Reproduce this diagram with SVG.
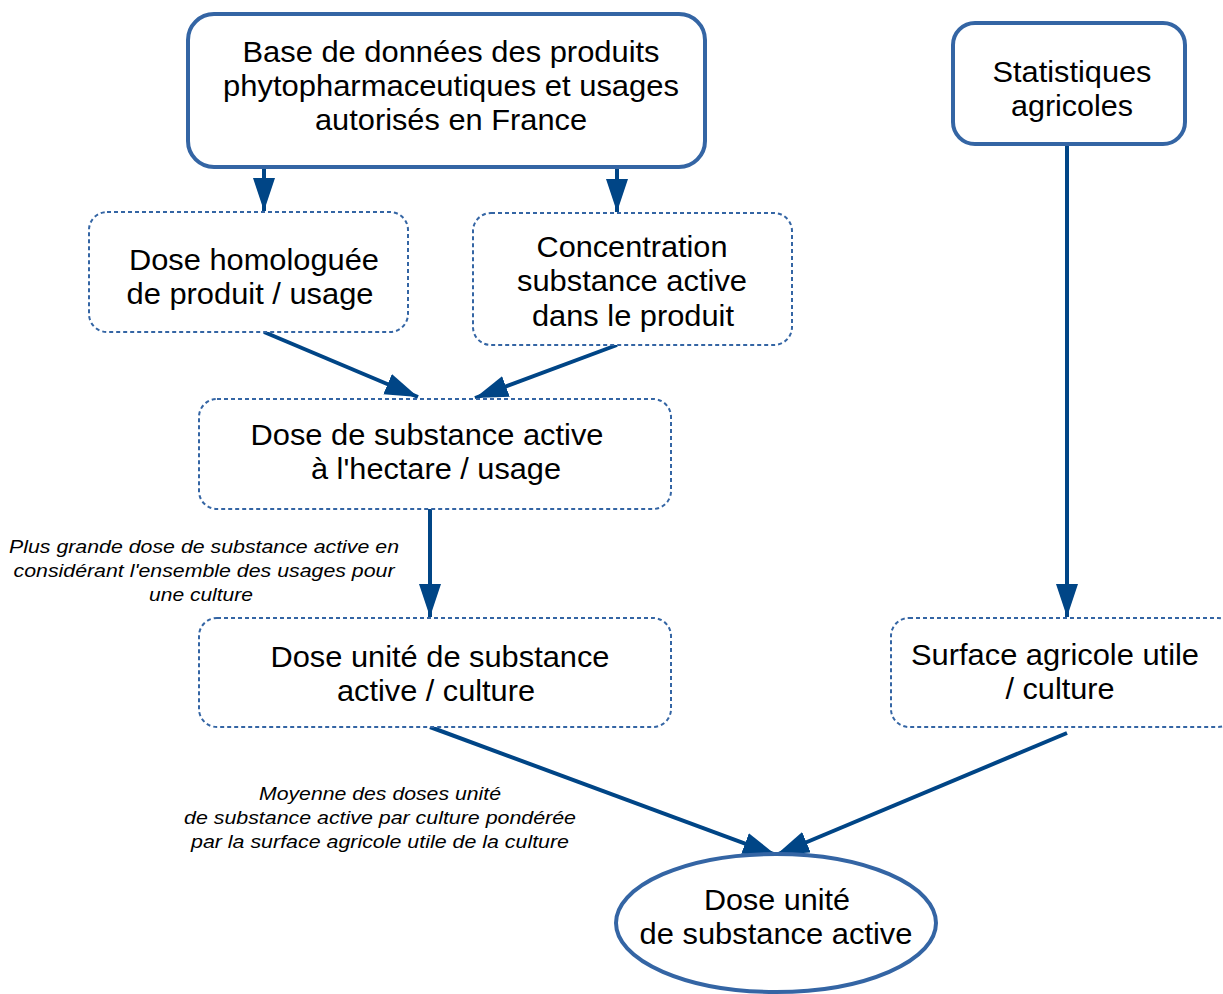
<svg xmlns="http://www.w3.org/2000/svg" width="1223" height="994" viewBox="0 0 1223 994">
<style>
.solid{fill:#fff;stroke:#3465a4;stroke-width:4}
.dot{fill:#fff;stroke:#3465a4;stroke-width:2;stroke-dasharray:4 3}
.t{font-family:"Liberation Sans",Arial,sans-serif;font-size:30px;fill:#000;text-anchor:middle}
.l{font-family:"Liberation Sans",Arial,sans-serif;font-size:18px;font-style:italic;fill:#000;text-anchor:middle}
.c{stroke:#004586;stroke-width:4;fill:none;marker-end:url(#ah)}
</style>
<defs>
<marker id="ah" markerUnits="userSpaceOnUse" markerWidth="34" markerHeight="24" refX="33" refY="11" orient="auto">
<path d="M0,0 L33,11 L0,22 z" fill="#004586"/>
</marker>
</defs>
<rect width="1223" height="994" fill="#fff"/>
<g id="connectors">
<line class="c" x1="264" y1="167" x2="264" y2="211"/>
<line class="c" x1="617" y1="167" x2="617" y2="212"/>
<line class="c" x1="264" y1="332" x2="418" y2="397"/>
<line class="c" x1="617" y1="345" x2="475" y2="398"/>
<line class="c" x1="430" y1="509" x2="430" y2="617"/>
<line class="c" x1="1067" y1="144" x2="1067" y2="617"/>
<line class="c" x1="430" y1="727" x2="776" y2="855"/>
<line class="c" x1="1067" y1="733" x2="776" y2="855"/>
</g>
<g id="base">
<rect class="solid" x="188" y="14" width="517" height="153" rx="26"/>
<text class="t" x="451" y="62" textLength="417" lengthAdjust="spacingAndGlyphs">Base de données des produits</text>
<text class="t" x="451" y="96" textLength="456" lengthAdjust="spacingAndGlyphs">phytopharmaceutiques et usages</text>
<text class="t" x="451" y="130" textLength="272" lengthAdjust="spacingAndGlyphs">autorisés en France</text>
</g>
<g id="stats">
<rect class="solid" x="953" y="23" width="232" height="121" rx="22"/>
<text class="t" x="1072" y="82" textLength="159" lengthAdjust="spacingAndGlyphs">Statistiques</text>
<text class="t" x="1072" y="116" textLength="122" lengthAdjust="spacingAndGlyphs">agricoles</text>
</g>
<g id="homologuee">
<rect class="dot" x="89" y="212" width="319" height="120" rx="18"/>
<text class="t" x="254" y="270" textLength="250" lengthAdjust="spacingAndGlyphs">Dose homologuée</text>
<text class="t" x="250" y="304" textLength="247" lengthAdjust="spacingAndGlyphs">de produit / usage</text>
</g>
<g id="concentration">
<rect class="dot" x="473" y="213" width="319" height="132" rx="18"/>
<text class="t" x="632" y="257" textLength="191" lengthAdjust="spacingAndGlyphs">Concentration</text>
<text class="t" x="632" y="291" textLength="230" lengthAdjust="spacingAndGlyphs">substance active</text>
<text class="t" x="633" y="326" textLength="202" lengthAdjust="spacingAndGlyphs">dans le produit</text>
</g>
<g id="hectare">
<rect class="dot" x="199" y="399" width="472" height="110" rx="18"/>
<text class="t" x="427" y="445" textLength="353" lengthAdjust="spacingAndGlyphs">Dose de substance active</text>
<text class="t" x="436" y="479" textLength="250" lengthAdjust="spacingAndGlyphs">à l'hectare / usage</text>
</g>
<g id="label1">
<text class="l" x="204" y="553" textLength="390" lengthAdjust="spacingAndGlyphs">Plus grande dose de substance active en</text>
<text class="l" x="204" y="577" textLength="381" lengthAdjust="spacingAndGlyphs">considérant l'ensemble des usages pour</text>
<text class="l" x="201" y="601" textLength="104" lengthAdjust="spacingAndGlyphs">une culture</text>
</g>
<g id="unite-culture">
<rect class="dot" x="199" y="618" width="472" height="109" rx="18"/>
<text class="t" x="440" y="667" textLength="339" lengthAdjust="spacingAndGlyphs">Dose unité de substance</text>
<text class="t" x="436" y="701" textLength="198" lengthAdjust="spacingAndGlyphs">active / culture</text>
</g>
<g id="surface">
<rect class="dot" x="891" y="618" width="345" height="109" rx="18"/>
<text class="t" x="1055" y="665" textLength="288" lengthAdjust="spacingAndGlyphs">Surface agricole utile</text>
<text class="t" x="1060" y="699" textLength="109" lengthAdjust="spacingAndGlyphs">/ culture</text>
</g>
<g id="label2">
<text class="l" x="380" y="800" textLength="242" lengthAdjust="spacingAndGlyphs">Moyenne des doses unité</text>
<text class="l" x="380" y="824" textLength="392" lengthAdjust="spacingAndGlyphs">de substance active par culture pondérée</text>
<text class="l" x="380" y="848" textLength="378" lengthAdjust="spacingAndGlyphs">par la surface agricole utile de la culture</text>
</g>
<g id="resultat">
<ellipse class="solid" cx="776" cy="923" rx="160" ry="69"/>
<text class="t" x="777" y="910" textLength="146" lengthAdjust="spacingAndGlyphs">Dose unité</text>
<text class="t" x="776" y="944" textLength="273" lengthAdjust="spacingAndGlyphs">de substance active</text>
</g>
</svg>
